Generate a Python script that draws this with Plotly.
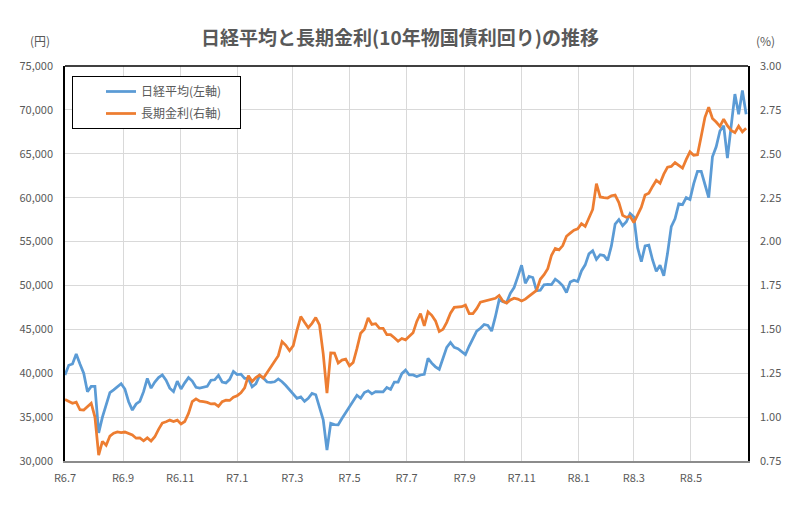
import pandas as pd
import plotly.graph_objects as go

# ---- data (one value every 4 days from 2024-07-01) ----
start_date = "2024-07-01"
step = "4D"

nikkei = [
    39800, 40900, 41050, 42200, 41050, 40000, 37900, 38500, 38500, 33200,
    35000, 36500, 37800, 38100, 38450, 38800, 38200, 36750, 35800, 36500,
    36800, 37900, 39400, 38300, 39000, 39500, 39800, 39200, 38300, 37900,
    39100, 38200, 38900, 39500, 39100, 38400, 38300, 38400, 38500, 39200,
    39250, 39750, 39000, 38900, 39300, 40200, 39850, 39900, 39400, 39400,
    38460, 38800, 39750, 39450, 39000, 38950, 39030, 39350, 39030, 38600,
    38100, 37600, 37140, 37300, 36800, 37150, 37700, 37550, 36150, 34700,
    31250, 34300, 34150, 34130, 34850, 35500, 36300, 36800, 37500, 37150,
    37800, 38000, 37650, 37900, 37850, 37870, 38380, 38150, 39000, 39000,
    39950, 40350, 39800, 39800, 39620, 39800, 39880, 41700, 41150, 40730,
    40450, 41800, 42950, 43500, 42950, 42800, 42500, 42130, 43100, 44000,
    44800, 45120, 45550, 45450, 44800, 46440, 48360, 48150, 48050, 49100,
    49760, 51000, 52300, 50240, 51020, 50900, 49400, 49450, 50070, 50120,
    50100, 50720, 50400, 49970, 49200, 50400, 50600, 50450, 51650, 52350,
    53600, 53950, 52980, 53500, 53400, 52850, 54500, 57000, 57500, 56800,
    57250, 58200, 57800, 54300, 52700, 54500, 54600, 52900, 51600, 52300,
    51100, 53660, 56700, 57600, 59300, 59200, 60000, 59800, 61600, 63000,
    63000, 61500, 60000, 64660, 65800, 67600, 68200, 64500, 68000, 71800,
    69500, 72200, 69500,
]

jgb10y = [
    1.100, 1.088, 1.079, 1.085, 1.042, 1.040, 1.062, 1.079, 1.000, 0.784,
    0.862, 0.840, 0.892, 0.908, 0.916, 0.912, 0.915, 0.905, 0.898, 0.880,
    0.882, 0.865, 0.882, 0.864, 0.888, 0.930, 0.966, 0.974, 0.983, 0.975,
    0.983, 0.961, 0.975, 1.021, 1.088, 1.104, 1.091, 1.088, 1.084, 1.075,
    1.077, 1.061, 1.088, 1.096, 1.095, 1.113, 1.122, 1.139, 1.167, 1.236,
    1.203, 1.225, 1.240, 1.222, 1.254, 1.292, 1.321, 1.350, 1.430, 1.409,
    1.378, 1.407, 1.496, 1.573, 1.540, 1.509, 1.534, 1.567, 1.525, 1.360,
    1.137, 1.366, 1.365, 1.308, 1.325, 1.330, 1.292, 1.311, 1.390, 1.478,
    1.500, 1.565, 1.528, 1.532, 1.507, 1.506, 1.470, 1.470, 1.452, 1.432,
    1.448, 1.440, 1.460, 1.480, 1.545, 1.590, 1.520, 1.600, 1.580, 1.548,
    1.488, 1.500, 1.540, 1.592, 1.625, 1.629, 1.629, 1.638, 1.590, 1.590,
    1.618, 1.655, 1.660, 1.667, 1.668, 1.677, 1.693, 1.661, 1.650, 1.667,
    1.677, 1.672, 1.661, 1.672, 1.689, 1.703, 1.722, 1.785, 1.811, 1.846,
    1.922, 1.961, 1.953, 1.977, 2.030, 2.048, 2.065, 2.072, 2.102, 2.086,
    2.140, 2.183, 2.330, 2.254, 2.250, 2.248, 2.261, 2.265, 2.222, 2.150,
    2.138, 2.144, 2.108, 2.156, 2.196, 2.265, 2.276, 2.314, 2.349, 2.332,
    2.384, 2.424, 2.428, 2.450, 2.432, 2.418, 2.468, 2.511, 2.492, 2.495,
    2.600, 2.708, 2.765, 2.701, 2.681, 2.656, 2.697, 2.660, 2.633, 2.620,
    2.657, 2.625, 2.645,
]

tick_dates = ["2024-07-01", "2024-09-01", "2024-11-01", "2025-01-01", "2025-03-01",
              "2025-05-01", "2025-07-01", "2025-09-01", "2025-11-01", "2026-01-01",
              "2026-03-01", "2026-05-01", "2026-07-01"]
tick_labels = ["R6.7", "R6.9", "R6.11", "R7.1", "R7.3", "R7.5", "R7.7", "R7.9",
               "R7.11", "R8.1", "R8.3", "R8.5", ""]

x_range = ["2024-07-01", "2026-07-01"]
yen_range = [30000, 75000]
pct_range = [0.75, 3.00]

title_text = "日経平均と長期金利(10年物国債利回り)の推移"
name_nikkei = "日経平均(左軸)"
name_jgb = "長期金利(右軸)"

# ---- figure ----
dates = pd.date_range(start_date, periods=len(nikkei), freq=step)

FONT = "Noto Sans CJK JP"
GRAY = "#595959"
PAD = "\u00a0" * 5  # right padding inside the legend box

fig = go.Figure()
fig.add_trace(go.Scatter(x=dates, y=nikkei, name=name_nikkei + PAD, mode="lines",
                         line=dict(color="#5B9BD5", width=2.75), yaxis="y",
                         legendgroup="a"))
fig.add_trace(go.Scatter(x=dates, y=jgb10y, name=name_jgb + PAD, mode="lines",
                         line=dict(color="#ED7D31", width=2.75), yaxis="y2",
                         legendgroup="b"))

fig.update_layout(
    width=800, height=510,
    margin=dict(l=65, r=52, t=66, b=49),
    paper_bgcolor="white", plot_bgcolor="white",
    font=dict(family=FONT, size=11, color=GRAY),
    title=dict(text="<b>" + title_text + "</b>", x=0.5, xanchor="center",
               y=1 - 38 / 510, yanchor="middle",
               font=dict(family=FONT, size=19, color=GRAY)),
    xaxis=dict(type="date", range=x_range, tickvals=tick_dates, ticktext=tick_labels,
               showgrid=True, gridcolor="#d9d9d9", gridwidth=1,
               showline=True, linecolor="#8c8c8c", linewidth=1.5,
               ticks="", tickfont=dict(size=11, color=GRAY), ticklabelstandoff=6,
               zeroline=False),
    yaxis=dict(range=yen_range, dtick=5000, tickformat=",d",
               showgrid=True, gridcolor="#d9d9d9", gridwidth=1,
               showline=True, linecolor="black", linewidth=1.5,
               ticks="", tickfont=dict(size=11, color=GRAY), ticklabelstandoff=8,
               zeroline=False),
    yaxis2=dict(range=pct_range, dtick=0.25, tickformat=".2f", overlaying="y", side="right",
                showgrid=False, showline=True, linecolor="black", linewidth=1.5,
                ticks="", tickfont=dict(size=11, color=GRAY), ticklabelstandoff=8,
                zeroline=False),
    legend=dict(x=(72 - 65) / 683, y=(461 - 76) / 395, xanchor="left", yanchor="top",
                bordercolor="black", borderwidth=1, bgcolor="white",
                font=dict(family=FONT, size=12, color=GRAY),
                tracegroupgap=3, indentation=28, itemwidth=30),
    showlegend=True,
)

fig.add_shape(type="line", xref="paper", yref="paper", x0=0, x1=1, y0=1, y1=1,
              line=dict(color="black", width=1.5))

fig.add_annotation(text="(円)", xref="paper", yref="paper", x=(40 - 65) / 683,
                   y=(461 - 40) / 395, xanchor="center", yanchor="middle", showarrow=False,
                   font=dict(family=FONT, size=12, color=GRAY))
fig.add_annotation(text="(%)", xref="paper", yref="paper", x=(765 - 65) / 683,
                   y=(461 - 40) / 395, xanchor="center", yanchor="middle", showarrow=False,
                   font=dict(family=FONT, size=12, color=GRAY))

fig.write_html("out.html")
